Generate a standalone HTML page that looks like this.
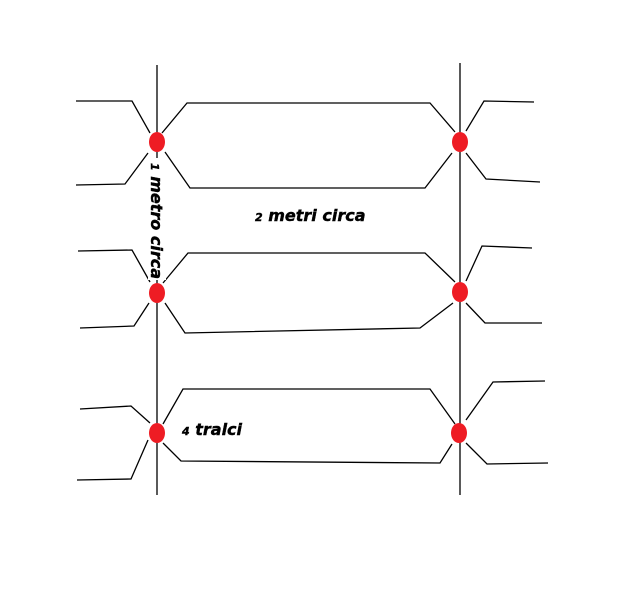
<!DOCTYPE html>
<html><head><meta charset="utf-8"><style>
html,body{margin:0;padding:0;background:#fff;}
svg{display:block;}
text{font-family:"DejaVu Sans","Liberation Sans",sans-serif;font-weight:bold;font-style:italic;fill:#000;stroke:#000;stroke-width:0.4;}
</style></head><body>
<svg width="626" height="598" viewBox="0 0 626 598" xmlns="http://www.w3.org/2000/svg">
<g stroke="#000" stroke-width="1.3" fill="none">
<line x1="157" y1="65" x2="157" y2="495"/>
<line x1="460" y1="63" x2="460" y2="495"/>
<polyline points="76,101 132,101 150,133"/>
<polyline points="76,185 125,184 148,153"/>
<polyline points="162,133 187,103 430,103 455,132"/>
<polyline points="165,152 190,188 425,188 452,153"/>
<polyline points="466,131 484,101 534,102"/>
<polyline points="466,153 486,179 540,182"/>
<polyline points="78,251 132,250 150,282"/>
<polyline points="80,328 134,326 149,303"/>
<polyline points="163,283 188,253 425,253 455,282"/>
<polyline points="165,303 185,333 420,328 453,303"/>
<polyline points="466,281 482,246 532,248"/>
<polyline points="466,303 485,323 542,323"/>
<polyline points="80,409 131,406 150,423"/>
<polyline points="77,480 131,479 148,440"/>
<polyline points="163,424 183,389 430,389 455,424"/>
<polyline points="163,443 181,461 440,463 452,444"/>
<polyline points="466,420 493,382 545,381"/>
<polyline points="466,443 487,464 548,463"/>
</g>
<rect x="148" y="158" width="18" height="122" fill="#fff"/>
<g fill="#ee1c24">
<ellipse cx="157" cy="142" rx="8" ry="10"/>
<ellipse cx="460" cy="142" rx="8" ry="10"/>
<ellipse cx="157" cy="293" rx="8" ry="10"/>
<ellipse cx="460" cy="292" rx="8" ry="10"/>
<ellipse cx="157" cy="433" rx="8" ry="10"/>
<ellipse cx="459" cy="433" rx="8" ry="10"/>
</g>
<text x="255" y="221" font-size="16"><tspan font-size="11">2</tspan> metri circa</text>
<text x="182" y="435" font-size="16"><tspan font-size="11">4</tspan> tralci</text>
<text transform="translate(151,163) rotate(90)" font-size="16"><tspan font-size="11">1</tspan> metro circa</text>
</svg>
</body></html>
